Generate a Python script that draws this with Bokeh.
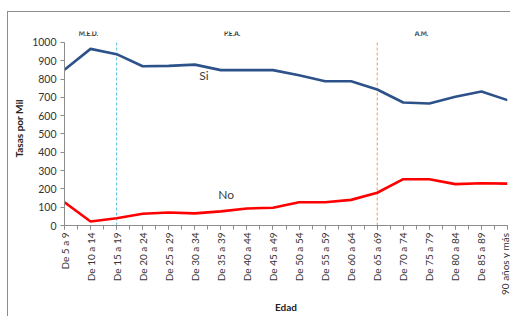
import math
from bokeh.plotting import figure
from bokeh.layouts import column
from bokeh.models import FixedTicker, Range1d, ColumnDataSource
from bokeh.core.properties import value
from bokeh.embed import file_html
from bokeh.resources import INLINE

categories = ["De 5 a 9", "De 10 a 14", "De 15 a 19", "De 20 a 24", "De 25 a 29",
              "De 30 a 34", "De 35 a 39", "De 40 a 44", "De 45 a 49", "De 50 a 54",
              "De 55 a 59", "De 60 a 64", "De 65 a 69", "De 70 a 74", "De 75 a 79",
              "De 80 a 84", "De 85 a 89", "90 años y más"]
si_values = [851, 965, 936, 870, 872, 879, 849, 849, 849, 821, 788, 788, 743, 672, 667, 703, 732, 685]
no_values = [127, 22, 40, 64, 71, 66, 77, 93, 97, 127, 127, 140, 179, 253, 253, 226, 231, 229]
y_ticks = [0, 100, 200, 300, 400, 500, 600, 700, 800, 900, 1000]
divider_categories = ["De 15 a 19", "De 65 a 69"]
divider_colors = ["#5BC0DE", "#F79646"]
stage_labels = ["M.E.D.", "P.E.A.", "A.M."]
series_labels = ["Si", "No"]

xs = list(range(len(categories)))
FONT = "Lato"

p = figure(width=503, height=305, output_backend="svg", toolbar_location=None,
           x_range=Range1d(0, len(categories) - 1), y_range=Range1d(0, 1060),
           min_border_left=56, min_border_right=4, min_border_top=19, min_border_bottom=92)
p.styles = {"border-top": "1px solid #8c8c8c", "border-left": "1px solid #8c8c8c"}
p.outline_line_color = None
p.xgrid.visible = False
p.ygrid.visible = False

# series labels (drawn first)
p.text(x=[5.35, 6.2], y=[818, 172], text=series_labels, text_font=value(FONT),
       text_font_size="12px", text_color=["#404040", "#404040"], text_align="center",
       text_baseline="middle")

# stage headers above the plot
p.text(x=[0.92, 6.43, 13.7], y=[1047] * 3, text=stage_labels,
       text_font=value(FONT), text_font_style="bold", text_font_size="6.5px",
       text_color="#333333", text_align="center", text_baseline="middle")

div_x = [categories.index(c) for c in divider_categories]
p.segment(x0=div_x, x1=div_x, y0=[y_ticks[0]] * 2, y1=[y_ticks[-1]] * 2,
          line_color=divider_colors, line_width=1, line_dash="3 2")

src = ColumnDataSource(dict(x=xs, si=si_values, no=no_values))
p.line("x", "si", source=src, line_color="#2D5289", line_width=2.6)
p.line("x", "no", source=src, line_color="#FF0000", line_width=2.6)

# x axis
p.xaxis.ticker = FixedTicker(ticks=xs, minor_ticks=[i / 2 for i in range(2 * len(xs) - 1)])
p.xaxis.major_label_overrides = {i: c for i, c in enumerate(categories)}
p.xaxis.major_label_orientation = math.pi / 2
p.xaxis.major_label_text_font = FONT
p.xaxis.major_label_text_font_size = "10px"
p.xaxis.major_label_text_color = "#333333"
p.xaxis.major_label_standoff = 3
p.xaxis.major_tick_in = 0
p.xaxis.major_tick_out = 4
p.xaxis.minor_tick_in = 0
p.xaxis.minor_tick_out = 4
p.xaxis.axis_label = "Edad"
p.xaxis.axis_label_text_font = FONT
p.xaxis.axis_label_text_font_style = "bold"
p.xaxis.axis_label_text_font_size = "10px"
p.xaxis.axis_label_text_color = "#222222"
p.xaxis.axis_label_standoff = 3

# y axis
p.yaxis.ticker = FixedTicker(ticks=y_ticks)
p.yaxis.bounds = (y_ticks[0], y_ticks[-1])
p.yaxis.major_label_text_font = FONT
p.yaxis.major_label_text_font_size = "10.5px"
p.yaxis.major_label_text_color = "#333333"
p.yaxis.major_tick_in = 0
p.yaxis.major_tick_out = 4
p.yaxis.minor_tick_line_color = None
p.yaxis.major_label_standoff = 4
p.yaxis.axis_label = "Tasas por Mil"
p.yaxis.axis_label_text_font = FONT
p.yaxis.axis_label_text_font_style = "bold"
p.yaxis.axis_label_text_font_size = "10px"
p.yaxis.axis_label_text_color = "#222222"
p.yaxis.axis_label_standoff = 4

for ax in (p.xaxis, p.yaxis):
    ax.axis_line_color = "#8c8c8c"
    ax.major_tick_line_color = "#8c8c8c"
p.xaxis.minor_tick_line_color = "#8c8c8c"

root = column(p, styles={"padding-left": "7px", "padding-top": "11px"})
open("out.html", "w").write(file_html(root, INLINE))
